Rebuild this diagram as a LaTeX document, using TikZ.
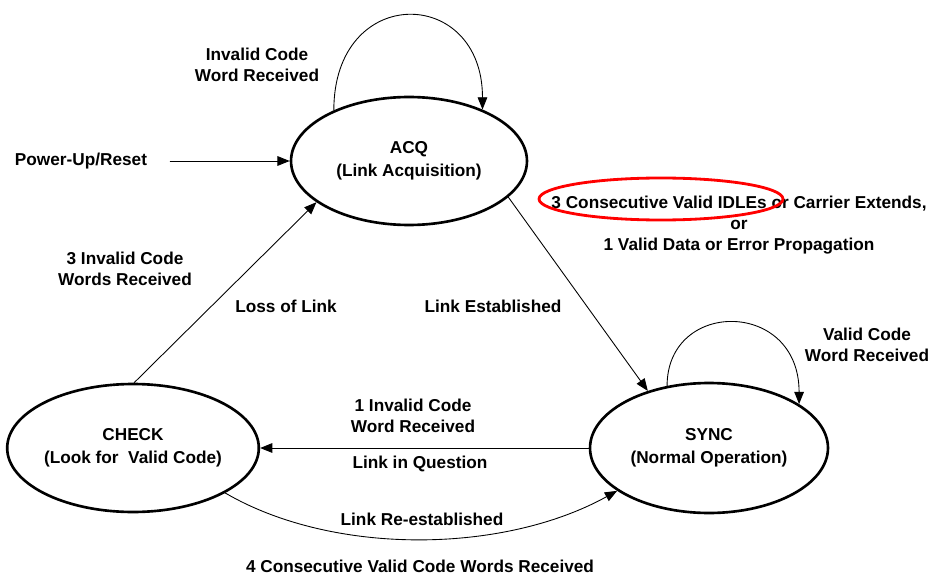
\documentclass[tikz,border=0pt]{standalone}
\usepackage{fontspec}
\setmainfont{Liberation Sans}
\usetikzlibrary{shapes.geometric,arrows.meta}

\begin{document}
\begin{tikzpicture}[line join=round, line cap=round, >={Triangle[length=7pt,width=5.5pt]}, x=0.02cm, y=-0.02cm]

		\tikzset{statenode/.style={draw, ellipse, line width=1.5pt, inner sep=0pt, align=center, font=\bfseries\fontsize{9.8}{13}\selectfont},
			txt/.style={align=center, inner sep=0pt, font=\bfseries\fontsize{9.8}{11.9}\selectfont},
			link/.style={->, line width=0.5pt}}

		\useasboundingbox (0,0) rectangle (932,574);
		\node[statenode, minimum width=4.72cm, minimum height=2.56cm] (acq) at (409,161) {ACQ\\(Link Acquisition)};
		\node[statenode, minimum width=4.76cm, minimum height=2.6cm] (sync) at (709,448) {SYNC\\(Normal Operation)};
		\node[statenode, minimum width=4.8cm, minimum height=2.56cm] (check) at (133,448) {CHECK\\(Look for\ \ Valid Code)};

		\node[txt] (power) at (81,161) {Power-Up/Reset};
		\node[txt] (invalidacq) at (257,65) {Invalid Code\\Word Received};
		\node[txt] (threeinv) at (125,269) {3 Invalid Code\\Words Received};
		\node[txt] (loss) at (286,306) {Loss of Link};
		\node[txt] (est) at (493,306) {Link Established};
		\node[txt] (idles) at (739,225) {3 Consecutive Valid IDLEs or Carrier Extends,\\or\\1 Valid Data or Error Propagation};
		\node[txt] (validsync) at (867,345) {Valid Code\\Word Received};
		\node[txt] (oneinv) at (413,416) {1 Invalid Code\\Word Received};
		\node[txt] (question) at (420,464) {Link in Question};
		\node[txt] (reest) at (422,519) {Link Re-established};
		\node[txt] (fourvalid) at (420,566) {4 Consecutive Valid Code Words Received};

		\draw[link, shorten <=13pt] (power) -- (acq);
		\draw[link] (acq.146) .. controls +(0,-127) and +(0,-124) .. (acq.35);
		\draw[link] (acq.-20) -- (sync.137);
		\draw[link] (sync.124) .. controls +(0,-87) and +(0,-105) .. (sync.26);
		\draw[link] (sync) -- (check);
		\draw[link] (check.89) -- (acq.204);
		\draw[link] (check.-26) .. controls +(108,63) and +(-114,63) .. (sync.205);

		\draw[red, line width=1.6pt] (661,199) ellipse [x radius=122, y radius=21];
		\end{tikzpicture}
\end{document}
